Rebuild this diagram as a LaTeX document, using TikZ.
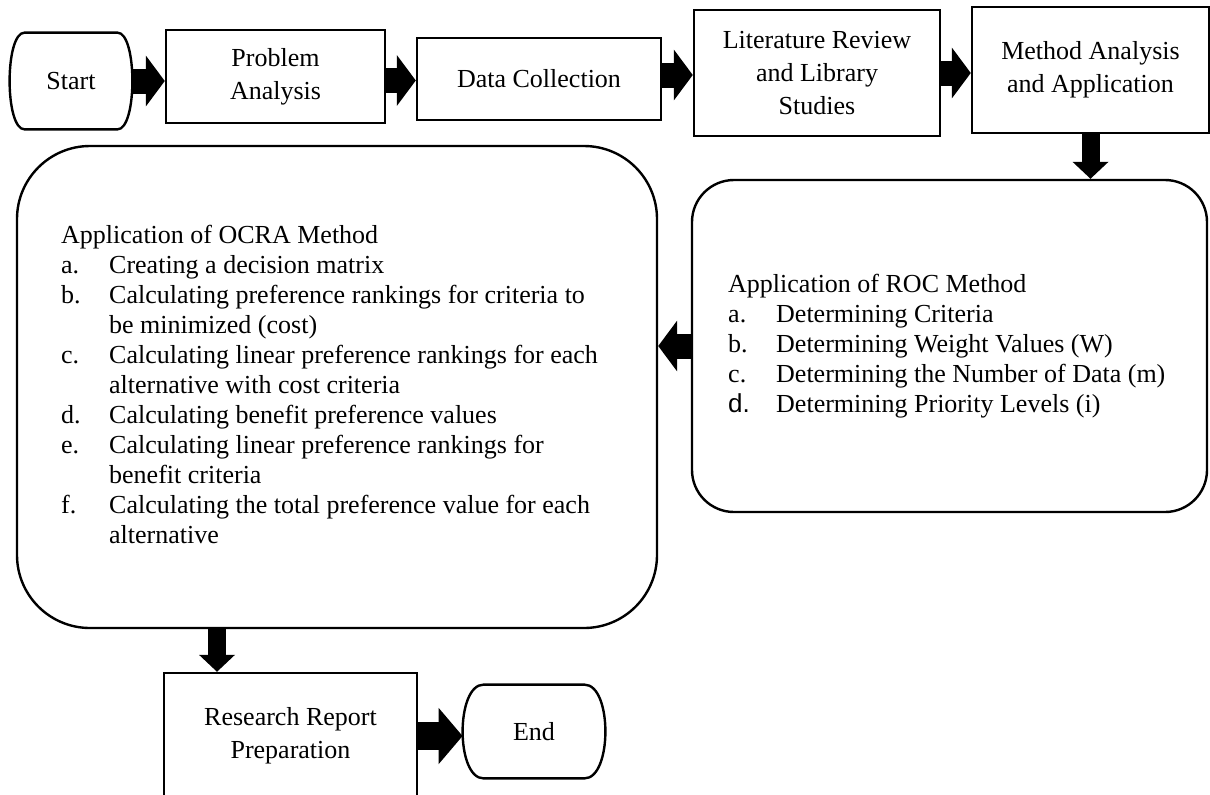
\documentclass[tikz,border=0pt]{standalone}
\usepackage{fontspec}
\setmainfont{Liberation Serif}
\newfontfamily\arialfont{Liberation Sans}
\usepackage{tikz}
\usetikzlibrary{arrows.meta}
\usetikzlibrary{calc}

\tikzset{
  boxline/.style={draw=black, line width=1.2pt},
  stepbox/.style={boxline, rectangle, inner sep=0pt, align=center, font=\fontsize{13}{16.5}\selectfont},
  termbox/.style={rectangle, inner sep=0pt, align=center, font=\fontsize{13}{16.5}\selectfont},
  methodbox/.style={boxline, rectangle, inner sep=0pt},
  listtext/.style={inner sep=0pt, anchor=west, font=\fontsize{13}{15}\selectfont},
  bigarrow/.style={line width=12.5pt, -{Triangle[length=9.5pt,width=25pt]}},
  downarrow/.style={line width=9pt, -{Triangle[length=8.5pt,width=17.5pt]}},
  endarrow/.style={line width=14pt, -{Triangle[length=12pt,width=27.5pt]}}
}

\begin{document}
\begin{tikzpicture}[x=0.5pt,y=-0.5pt]
\useasboundingbox (0,0) rectangle (1210,794);
%% top row
\node[termbox, minimum width=61pt, minimum height=48pt] (start) at (71,81) {Start};
\node[stepbox, minimum width=109.5pt, minimum height=46.5pt] (prob) at (275.5,76.5) {Problem\\Analysis};
\node[stepbox, minimum width=122pt, minimum height=41pt] (data) at (539,79) {Data Collection};
\node[stepbox, minimum width=123pt, minimum height=63pt] (lit) at (817,73) {Literature Review\\and Library\\Studies};
\node[stepbox, minimum width=118.5pt, minimum height=63pt] (meth) at (1090.5,70) {Method Analysis\\and Application};

%% method boxes
\node[methodbox, rounded corners=21pt, minimum width=257.5pt, minimum height=166pt] (roc) at (949.5,346) {};
\node[listtext] (roclist) at ([xshift=18.5pt]roc.west) {%
  \begin{tabular}{@{}p{24pt}@{}l@{}}
  \multicolumn{2}{@{}l@{}}{Application of ROC Method}\\
  a. & Determining Criteria\\
  b. & Determining Weight Values (W)\\
  c. & Determining the Number of Data (m)\\
  {\arialfont d.} & Determining Priority Levels (i)
  \end{tabular}};

\node[methodbox, rounded corners=36.5pt, minimum width=320pt, minimum height=241pt] (ocra) at (337,387) {};
\node[listtext] (ocralist) at ([xshift=22.5pt]ocra.west) {%
  \begin{tabular}{@{}p{24pt}@{}l@{}}
  \multicolumn{2}{@{}l@{}}{Application of OCRA Method}\\
  a. & Creating a decision matrix\\
  b. & Calculating preference rankings for criteria to\\
     & be minimized (cost)\\
  c. & Calculating linear preference rankings for each\\
     & alternative with cost criteria\\
  d. & Calculating benefit preference values\\
  e. & Calculating linear preference rankings for\\
     & benefit criteria\\
  f. & Calculating the total preference value for each\\
     & alternative
  \end{tabular}};

%% bottom row
\node[stepbox, minimum width=126.5pt, minimum height=63pt] (rep) at (290.5,736) {Research Report\\Preparation};
\node[termbox, minimum width=71pt, minimum height=46.5pt] (end) at (534,731.5) {End};

%% terminal outlines
\foreach \n/\r/\c in {start/7.5/10, end/10.5/14}
  \draw[boxline, line join=round] ([xshift=\r pt]\n.north west) -- ([xshift=-\r pt]\n.north east)
    .. controls +(\c pt,0) and +(\c pt,0) .. ([xshift=-\r pt]\n.south east)
    -- ([xshift=\r pt]\n.south west)
    .. controls +(-\c pt,0) and +(-\c pt,0) .. ([xshift=\r pt]\n.north west) -- cycle;

%% arrows
\draw[bigarrow] (start.east) -- (start.east -| prob.west);
\draw[bigarrow] ([yshift=-2pt]prob.east) -- ([yshift=-2pt]prob.east -| data.west);
\draw[bigarrow] ([yshift=2pt]data.east) -- ([yshift=2pt]data.east -| lit.west);
\draw[bigarrow] (lit.east) -- (lit.east -| meth.west);
\draw[downarrow] (meth.south) -- (meth.south |- roc.north);
\draw[bigarrow] (roc.west) -- (roc.west -| ocra.east);
\draw[downarrow] ([xshift=-60pt]ocra.south) -- ([xshift=-60pt]ocra.south |- rep.north);
\draw[endarrow] (rep.east) -- (rep.east -| end.west);
\end{tikzpicture}
\end{document}
